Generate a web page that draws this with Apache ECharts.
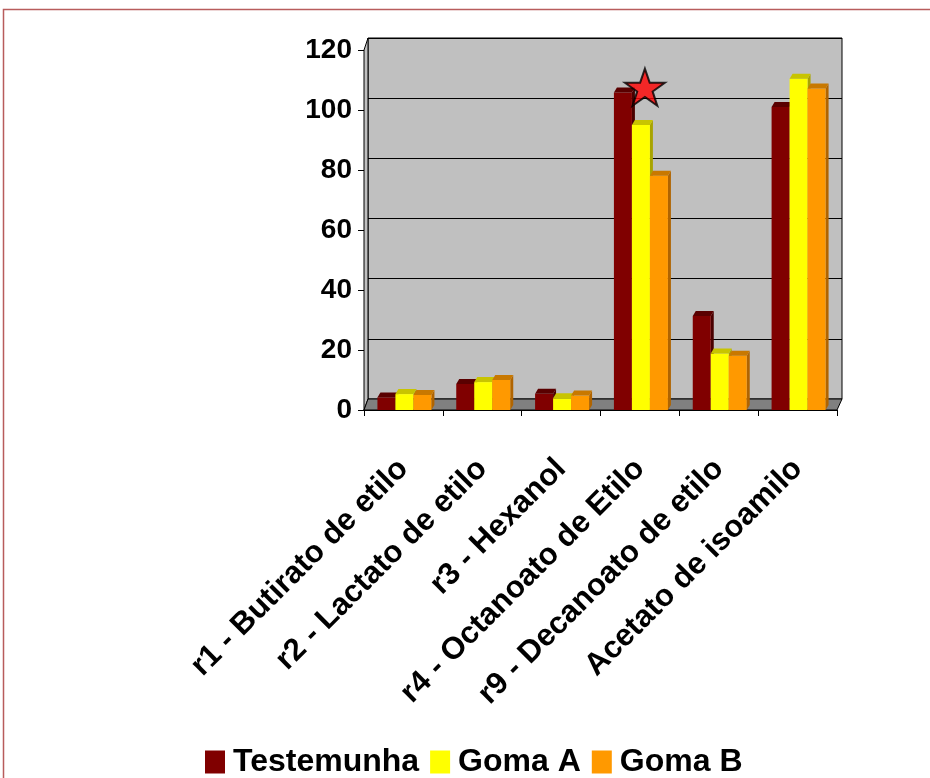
<!DOCTYPE html>
<html>
<head>
<meta charset="utf-8">
<script src="https://cdn.jsdelivr.net/npm/echarts@6/dist/echarts.min.js"></script>
<style>
  html, body { margin: 0; padding: 0; background: #fff; }
  #chart { width: 930px; height: 778px; }
</style>
</head>
<body>
<div id="chart"></div>
<script>
// dados
var categorias = ['r1 - Butirato de etilo', 'r2 - Lactato de etilo', 'r3 - Hexanol',
    'r4 - Octanoato de Etilo', 'r9 - Decanoato de etilo', 'Acetato de isoamilo'];
var nomesSeries = ['Testemunha', 'Goma A', 'Goma B'];
var testemunha = [4.2, 8.7, 5.4, 105.8, 31.3, 101];
var gomaA = [5.3, 9.3, 3.9, 95, 18.8, 110.4];
var gomaB = [5.0, 10.0, 4.8, 78.1, 18.1, 107.2];
var estrela = [3, 107.6];   // marcador em r4
var eixoY = { min: 0, max: 120, interval: 20 };

var cores = ['#800000', '#ffff00', '#ff9900'];
var coresTopo = ['#5a0000', '#c8c400', '#c87800'];
var coresLado = ['#4a0000', '#a8a400', '#b06400'];
var fonte = '"Liberation Sans", Arial, sans-serif';

var barW = 18, dx = 3, dy = 5;

function renderBarra(idx) {
    return function (params, api) {
        var cat = api.value(0);
        var topo = api.coord([cat, api.value(1)]);
        var base = api.coord([cat, 0]);
        var x0 = topo[0] - 1.5 * barW + 1 + idx * barW;
        var y = topo[1], yb = base[1];
        return {
            type: 'group',
            children: [{
                type: 'polygon',
                shape: { points: [[x0 + barW, y], [x0 + barW + dx, y - dy], [x0 + barW + dx, yb - dy], [x0 + barW, yb]] },
                style: { fill: coresLado[idx] }
            }, {
                type: 'rect',
                shape: { x: x0, y: y, width: barW, height: yb - y },
                style: { fill: cores[idx] }
            }, {
                type: 'polygon',
                shape: { points: [[x0, y], [x0 + dx, y - dy], [x0 + barW + dx, y - dy], [x0 + barW, y]] },
                style: { fill: coresTopo[idx] }
            }]
        };
    };
}

function dados(arr) {
    return arr.map(function (v, i) { return [i, v]; });
}

var chart = echarts.init(document.getElementById('chart'));
chart.setOption({
    animation: false,
    textStyle: { fontFamily: fonte },
    graphic: [{
        type: 'rect', z: -10,
        shape: { x: 3.5, y: 9.5, width: 940, height: 800 },
        style: { fill: '#fff', stroke: '#b85c5c', lineWidth: 1.5 }
    }, {
        // parede esquerda
        type: 'polygon', z: 1,
        shape: { points: [[364, 410], [364, 50], [368, 38], [368, 399]] },
        style: { fill: '#c0c0c0', stroke: '#000', lineWidth: 1 }
    }, {
        // chão
        type: 'polygon', z: 1,
        shape: { points: [[364, 410], [368, 399], [842, 399], [837, 410]] },
        style: { fill: '#808080', stroke: '#000', lineWidth: 1 }
    }],
    legend: {
        data: nomesSeries,
        left: 200,
        top: 741,
        itemWidth: 20,
        itemHeight: 23,
        itemGap: 11,
        icon: 'rect',
        textStyle: { fontSize: 32, fontWeight: 'bold', color: '#000', fontFamily: fonte, padding: [0, 0, 0, 3] }
    },
    grid: [{
        left: 364, right: 93, top: 50, bottom: 368
    }, {
        left: 368, right: 88, top: 38, bottom: 379,
        show: true, backgroundColor: '#c0c0c0', borderColor: '#000', borderWidth: 1
    }],
    xAxis: [{
        type: 'category', gridIndex: 0, data: categorias,
        axisLine: { lineStyle: { color: '#000', width: 1 } },
        axisTick: { show: true, length: 6, lineStyle: { color: '#000' } },
        axisLabel: {
            rotate: 45, margin: 54, interval: 0,
            fontSize: 31, fontWeight: 'bold', color: '#000', fontFamily: fonte
        }
    }, {
        type: 'category', gridIndex: 1, data: categorias, show: false
    }],
    yAxis: [{
        type: 'value', gridIndex: 0,
        min: eixoY.min, max: eixoY.max, interval: eixoY.interval,
        axisLine: { show: true, lineStyle: { color: '#000' } },
        axisTick: { show: true, length: 6, lineStyle: { color: '#000' } },
        splitLine: { show: false },
        axisLabel: { fontSize: 28, fontWeight: 'bold', color: '#000', margin: 12, fontFamily: fonte }
    }, {
        type: 'value', gridIndex: 1,
        min: eixoY.min, max: eixoY.max, interval: eixoY.interval,
        axisLine: { show: false }, axisTick: { show: false }, axisLabel: { show: false },
        splitLine: { lineStyle: { color: '#000', width: 1.2 } }
    }],
    series: [
        { name: nomesSeries[0], type: 'custom', z: 3, renderItem: renderBarra(0), itemStyle: { color: cores[0] }, data: dados(testemunha) },
        { name: nomesSeries[1], type: 'custom', z: 3, renderItem: renderBarra(1), itemStyle: { color: cores[1] }, data: dados(gomaA) },
        { name: nomesSeries[2], type: 'custom', z: 3, renderItem: renderBarra(2), itemStyle: { color: cores[2] }, data: dados(gomaB) },
        {
            name: 'estrela', type: 'scatter', z: 5,
            symbol: 'path://M50,0 L61.8,35.1 L98.9,35.1 L68.9,56.7 L80.2,91.9 L50,70 L19.8,91.9 L31.1,56.7 L1.1,35.1 L38.2,35.1 Z',
            symbolSize: [40, 37],
            symbolOffset: [5, 0],
            itemStyle: { color: '#ff0000', borderColor: '#000', borderWidth: 2 },
            data: [estrela]
        }
    ]
});
</script>
</body>
</html>
